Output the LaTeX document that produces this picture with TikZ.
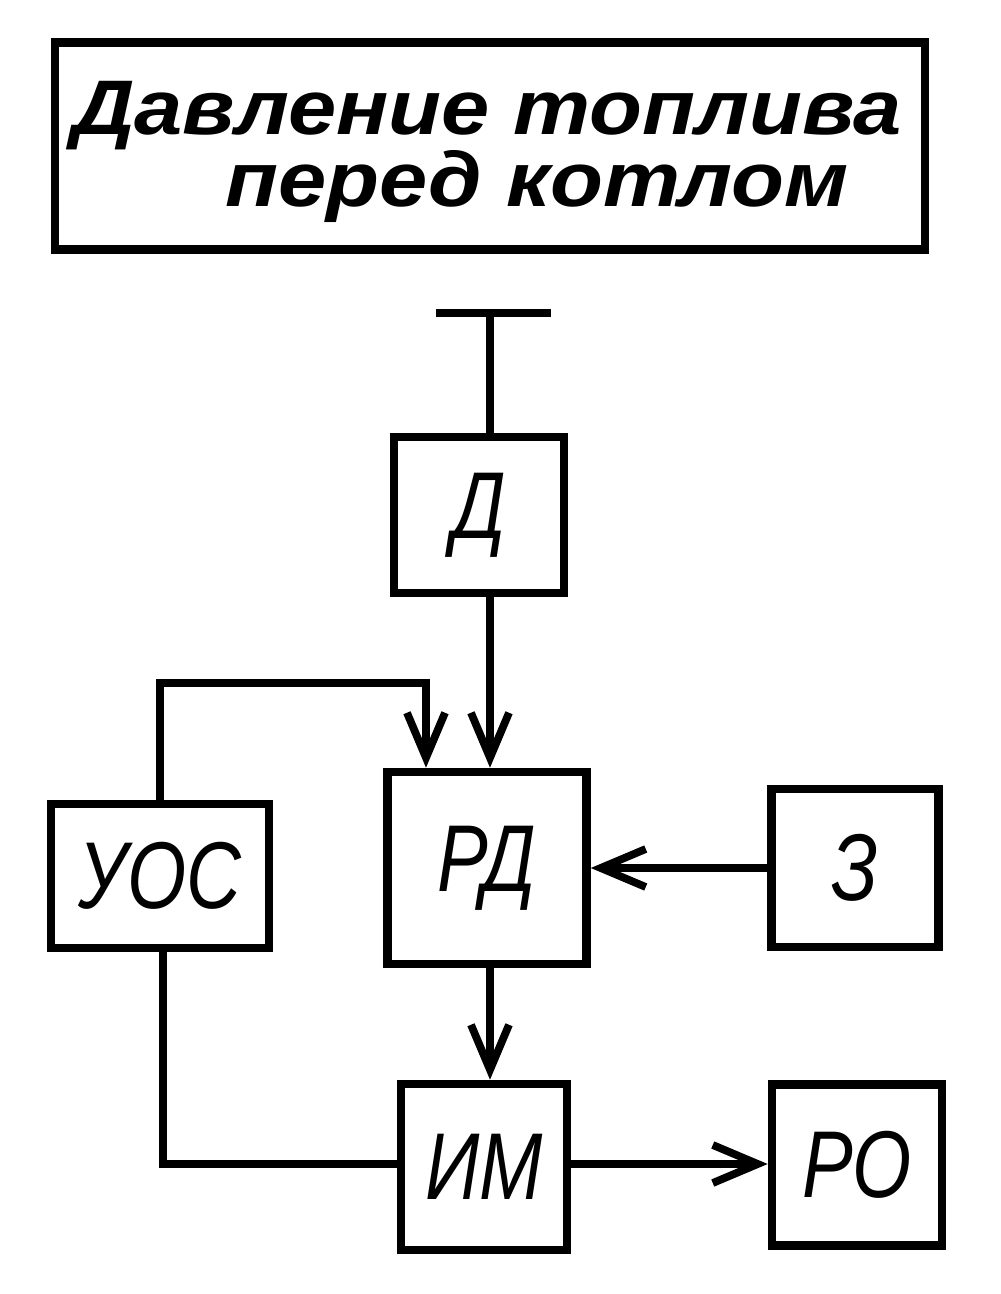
\documentclass[tikz,border=0pt]{standalone}
\usepackage{fontspec}
\setmainfont{Liberation Sans}
\newfontfamily\labfont[FakeStretch=0.8]{Liberation Sans}
\newfontfamily\topfont[FakeStretch=1.12]{Liberation Sans}
\usetikzlibrary{arrows.meta}
\begin{document}
\begin{tikzpicture}[x=0.01cm,y=-0.01cm,
  lw/.style={line width=2.4pt},
  blk/.style={draw,lw,inner sep=0pt,font=\labfont\itshape\fontsize{27}{30}\selectfont},
  arr/.style={lw,-{Straight Barb[length=0.45cm,width=0.38cm,line width=2.2pt]}},
  ln/.style={lw},
  toptxt/.style={anchor=base,inner sep=0pt,font=\topfont\bfseries\itshape\fontsize{22}{24}\selectfont}]
\useasboundingbox (0,0) rectangle (1000,1294);
% top box
\node[draw,lw,minimum width=8.69cm,minimum height=2.07cm] (top) at (490,146) {};
\node[toptxt] (t1) at (487,135) {Давление топлива};
\node[toptxt] (t2) at (537,206) {перед котлом};
% blocks
\node[blk,minimum width=1.70cm,minimum height=1.56cm] (D) at (479,515) {Д};
\node[blk,minimum width=1.99cm,minimum height=1.92cm] (RD) at (487,868) {РД};
\node[blk,minimum width=2.18cm,minimum height=1.44cm] (UOS) at (160,876) {УОС};
\node[blk,minimum width=1.67cm,minimum height=1.58cm] (Z) at (855,868) {З};
\node[blk,minimum width=1.66cm,minimum height=1.66cm] (IM) at (484,1167) {ИМ};
\node[blk,minimum width=1.70cm,minimum height=1.61cm] (RO) at (857,1165) {РО};
% T-bar
\coordinate (tl) at (436,313);
\coordinate (tr) at (551,313);
\coordinate (tm) at (490,313);
\draw[ln] (tl) -- (tr);
\draw[ln] (tm) -- (tm |- D.north);
% D -> RD
\draw[arr] (tm |- D.south) -- (tm |- RD.north);
% feedback UOS -> RD
\coordinate (fb) at (426,683);
\draw[arr] (UOS.north) |- (fb) -- (fb |- RD.north);
% Z -> RD
\draw[arr] (Z.west) -- (RD.east |- Z.west);
% RD -> IM
\draw[arr] (tm |- RD.south) -- (tm |- IM.north);
% UOS -> IM
\coordinate (ub) at (163,1164);
\draw[ln] (ub |- UOS.south) -- (ub) -- (IM.west |- ub);
% IM -> RO
\draw[arr] (IM.east |- ub) -- (RO.west |- ub);
\end{tikzpicture}
\end{document}
